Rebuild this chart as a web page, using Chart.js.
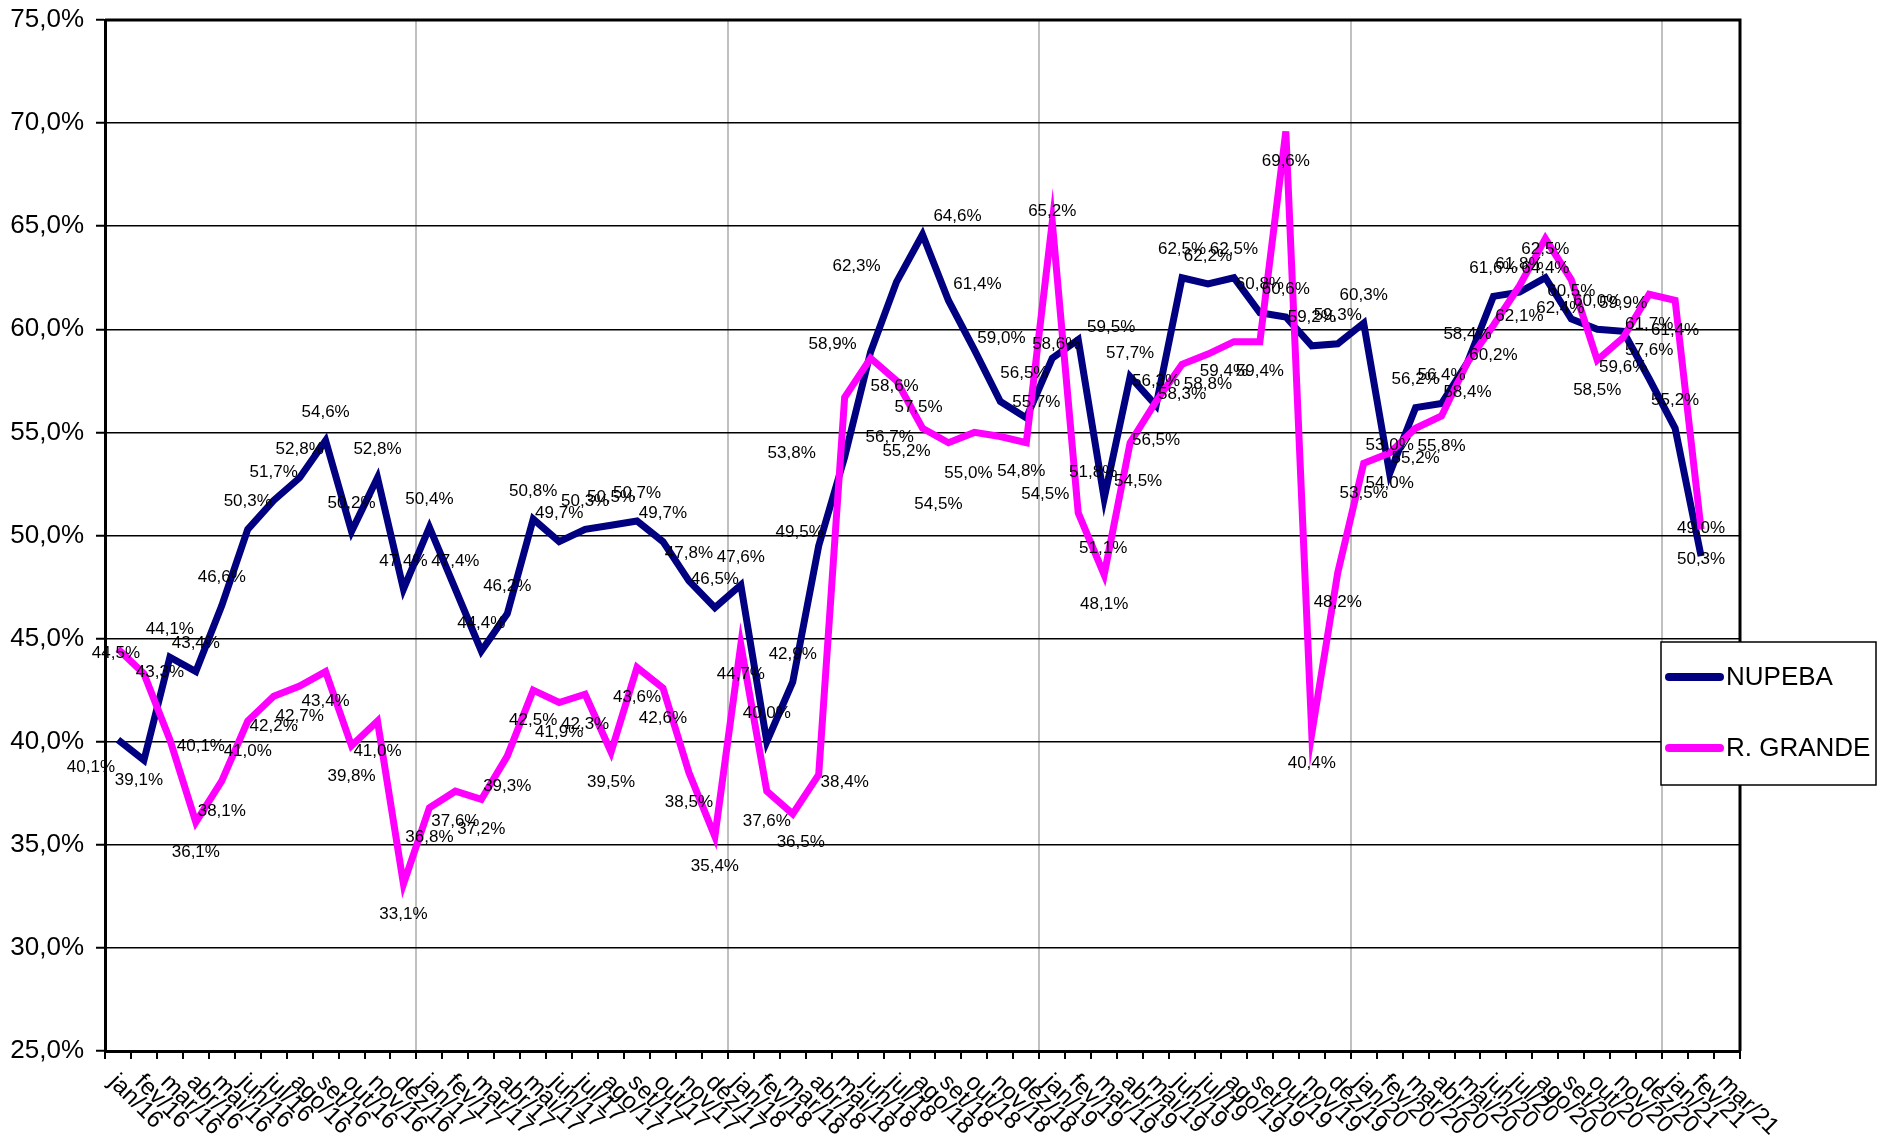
<!DOCTYPE html>
<html>
<head>
<meta charset="utf-8">
<script src="https://cdn.jsdelivr.net/npm/chart.js@4.4.1/dist/chart.umd.min.js"></script>
<style>
  html, body { margin: 0; padding: 0; background: #ffffff; }
  #wrap { width: 1878px; height: 1141px; }
</style>
</head>
<body>
<div id="wrap"><canvas id="chart" width="1878" height="1141"></canvas></div>
<script>
// month labels on the x axis
const monthLabels = [
  "jan/16", "fev/16", "mar/16", "abr/16", "mai/16", "jun/16", "jul/16", "ago/16", "set/16", "out/16", "nov/16", "dez/16",
  "jan/17", "fev/17", "mar/17", "abr/17", "mai/17", "jun/17", "jul/17", "ago/17", "set/17", "out/17", "nov/17", "dez/17",
  "jan/18", "fev/18", "mar/18", "abr/18", "mai/18", "jun/18", "jul/18", "ago/18", "set/18", "out/18", "nov/18", "dez/18",
  "jan/19", "fev/19", "mar/19", "abr/19", "mai/19", "jun/19", "jul/19", "ago/19", "set/19", "out/19", "nov/19", "dez/19",
  "jan/20", "fev/20", "mar/20", "abr/20", "mai/20", "jun/20", "jul/20", "ago/20", "set/20", "out/20", "nov/20", "dez/20",
  "jan/21", "fev/21", "mar/21"
];

// NUPEBA (%)
const nupeba = [
  40.1, 39.1, 44.1, 43.4, 46.6, 50.3, 51.7, 52.8, 54.6, 50.2, 52.8, 47.4,
  50.4, 47.4, 44.4, 46.2, 50.8, 49.7, 50.3, 50.5, 50.7, 49.7, 47.8, 46.5,
  47.6, 40.0, 42.9, 49.5, 53.8, 58.9, 62.3, 64.6, 61.4, 59.0, 56.5, 55.7,
  58.6, 59.5, 51.8, 57.7, 56.3, 62.5, 62.2, 62.5, 60.8, 60.6, 59.2, 59.3,
  60.3, 53.0, 56.2, 56.4, 58.4, 61.6, 61.8, 62.5, 60.5, 60.0, 59.9, 57.6,
  55.2, 49.0
];

// R. GRANDE (%)
const rGrande = [
  44.5, 43.3, 40.1, 36.1, 38.1, 41.0, 42.2, 42.7, 43.4, 39.8, 41.0, 33.1,
  36.8, 37.6, 37.2, 39.3, 42.5, 41.9, 42.3, 39.5, 43.6, 42.6, 38.5, 35.4,
  44.7, 37.6, 36.5, 38.4, 56.7, 58.6, 57.5, 55.2, 54.5, 55.0, 54.8, 54.5,
  65.2, 51.1, 48.1, 54.5, 56.5, 58.3, 58.8, 59.4, 59.4, 69.6, 40.4, 48.2,
  53.5, 54.0, 55.2, 55.8, 58.4, 60.2, 62.1, 64.4, 62.4, 58.5, 59.6, 61.7,
  61.4, 50.3
];

const seriesNames = ["NUPEBA", "R. GRANDE"];
const seriesColors = ["#000080", "#ff00ff"];

const FONT = '"Liberation Sans", Arial, sans-serif';
const pct = (v) => v.toFixed(1).replace(".", ",") + "%";

// posição padrão dos rótulos (acima / abaixo) e os deslocados à mão no original
const labelOffsetY = [-28, 30];
const labelTweaks = [
  {
    0: [-27, 28], 1: [-5, 20], 27: [-19, -13], 28: [-53, -4], 29: [-38, -8], 30: [-40, -16],
    31: [35, -18], 32: [29, -16], 33: [27, -12], 34: [24, -28], 35: [10, -16], 36: [4, -14],
    37: [33, -12], 38: [-11, -26], 39: [0, -23], 40: [0, -24],
  },
  {
    0: [-2, 4], 1: [16, -1], 2: [31, 7], 26: [8, 28], 27: [26, 8], 28: [45, 40], 29: [24, 28],
    30: [22, 26], 31: [-16, 23], 32: [-10, 62], 33: [-6, 41], 34: [21, 35], 35: [19, 52],
    36: [0, -11], 37: [25, 35], 39: [8, 39], 40: [0, 39], 43: [-10, 30], 56: [-11, 29],
  },
];

// borda de cima e da direita da área do gráfico
const frameBorder = {
  id: "frameBorder",
  beforeDatasetsDraw(chart) {
    const { ctx, chartArea: a } = chart;
    ctx.save();
    ctx.strokeStyle = "#000";
    ctx.lineWidth = 3;
    ctx.beginPath();
    ctx.moveTo(a.left, a.top);
    ctx.lineTo(a.right, a.top);
    ctx.lineTo(a.right, a.bottom);
    ctx.stroke();
    ctx.restore();
  },
};

// rótulos de dados
const dataLabels = {
  id: "dataLabels",
  afterDatasetsDraw(chart) {
    const { ctx } = chart;
    ctx.save();
    ctx.font = "17px " + FONT;
    ctx.fillStyle = "#000";
    ctx.textAlign = "center";
    ctx.textBaseline = "middle";
    chart.data.datasets.forEach((ds, di) => {
      const meta = chart.getDatasetMeta(di);
      meta.data.forEach((pt, i) => {
        const v = ds.data[i];
        if (v == null) return;
        const tw = labelTweaks[di][i];
        const dx = tw ? tw[0] : 0;
        const dy = tw ? tw[1] : labelOffsetY[di];
        ctx.fillText(pct(v), pt.x + dx, pt.y + dy);
      });
    });
    ctx.restore();
  },
};

// rótulos do eixo x girados 45 graus para baixo
const xLabels = {
  id: "xLabels",
  afterDraw(chart) {
    const { ctx } = chart;
    const xs = chart.scales.x;
    ctx.save();
    ctx.font = "24px " + FONT;
    ctx.fillStyle = "#000";
    ctx.textAlign = "left";
    ctx.textBaseline = "top";
    monthLabels.forEach((lab, i) => {
      const x = xs.getPixelForValue(i);
      ctx.save();
      ctx.translate(x + 3, xs.top + 19);
      ctx.rotate(Math.PI / 4);
      ctx.fillText(lab, 0, 0);
      ctx.restore();
    });
    ctx.restore();
  },
};

// legenda em caixa, sobre a borda direita
const boxLegend = {
  id: "boxLegend",
  afterDraw(chart) {
    const { ctx } = chart;
    const bx = 1661, by = 642, bw = 215, bh = 143;
    ctx.save();
    ctx.fillStyle = "#fff";
    ctx.fillRect(bx, by, bw, bh);
    ctx.strokeStyle = "#000";
    ctx.lineWidth = 1.5;
    ctx.strokeRect(bx, by, bw, bh);
    ctx.font = "26px " + FONT;
    ctx.textAlign = "left";
    ctx.textBaseline = "middle";
    ctx.lineCap = "round";
    const rows = [677, 748];
    seriesNames.forEach((name, i) => {
      ctx.strokeStyle = seriesColors[i];
      ctx.lineWidth = 8;
      ctx.beginPath();
      ctx.moveTo(bx + 8, rows[i]);
      ctx.lineTo(bx + 59, rows[i]);
      ctx.stroke();
      ctx.fillStyle = "#000";
      ctx.fillText(name, bx + 65, rows[i] + 1);
    });
    ctx.restore();
  },
};

new Chart(document.getElementById("chart").getContext("2d"), {
  type: "line",
  data: {
    labels: monthLabels,
    datasets: [
      {
        label: seriesNames[0],
        data: nupeba,
        borderColor: seriesColors[0],
        borderWidth: 7,
        pointRadius: 0,
        tension: 0,
        order: 1,
      },
      {
        label: seriesNames[1],
        data: rGrande,
        borderColor: seriesColors[1],
        borderWidth: 7,
        pointRadius: 0,
        tension: 0,
        order: 0,
      },
    ],
  },
  options: {
    responsive: false,
    animation: false,
    devicePixelRatio: 1,
    layout: { padding: { top: 20, right: 138, left: 0, bottom: 0 } },
    plugins: {
      legend: { display: false },
      tooltip: { enabled: false },
    },
    scales: {
      x: {
        offset: true,
        grid: {
          offset: true,
          color: (c) => (c.index % 12 === 0 && c.index > 0 && c.index < 63 ? "#c0c0c0" : "rgba(0,0,0,0)"),
          lineWidth: 2,
          tickColor: "#000",
          tickWidth: 2,
          tickLength: 8,
          drawTicks: true,
        },
        border: { display: true, color: "#000", width: 3 },
        ticks: { display: false },
        afterFit(scale) {
          scale.height = 90;
          scale.paddingLeft = 0;
          scale.paddingRight = 0;
        },
      },
      y: {
        min: 25,
        max: 75,
        grid: { color: "#000", lineWidth: 1.5, tickColor: "#000", tickLength: 9, tickWidth: 2 },
        border: { display: true, color: "#000", width: 3 },
        ticks: {
          stepSize: 5,
          padding: 12,
          color: "#000",
          font: { family: FONT, size: 26 },
          callback: (v) => pct(v),
        },
        afterFit(scale) {
          scale.width = 105;
          scale.paddingTop = 0;
          scale.paddingBottom = 0;
        },
      },
    },
  },
  plugins: [frameBorder, dataLabels, xLabels, boxLegend],
});
</script>
</body>
</html>
